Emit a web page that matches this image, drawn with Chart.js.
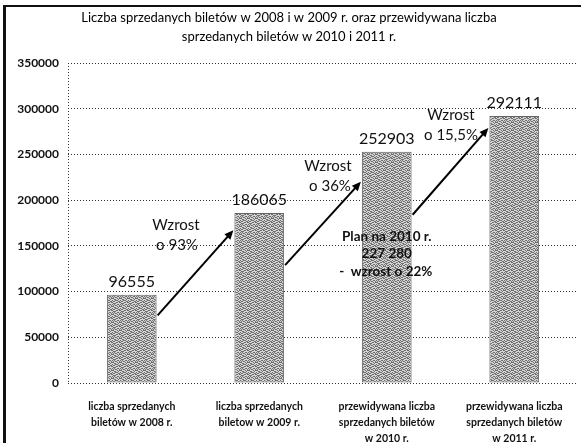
<!DOCTYPE html>
<html>
<head>
<meta charset="utf-8">
<script src="https://cdn.jsdelivr.net/npm/chart.js@4.4.1/dist/chart.umd.min.js"></script>
<style>
html,body{margin:0;padding:0;background:#fff;}
#wrap{width:581px;height:443px;position:relative;}
</style>
</head>
<body>
<div id="wrap"><canvas id="c" width="581" height="443"></canvas></div>
<script>
// ---- data ----
const categories = [
  ["liczba sprzedanych", "biletów w 2008 r."],
  ["liczba sprzedanych", "biletow w 2009 r."],
  ["przewidywana liczba", "sprzedanych biletów", "w 2010 r."],
  ["przewidywana liczba", "sprzedanych biletów", "w 2011 r."]
];
const tickets = [96555, 186065, 252903, 292111];
const titleLines = [
  "Liczba sprzedanych biletów w 2008 i w 2009 r. oraz przewidywana liczba",
  "sprzedanych biletów w 2010 i 2011 r."
];
const yMax = 350000;
const yStep = 50000;
// growth arrows: from bar i to bar i+1 (start value, end value)
const arrowFrom = [0, 1, 2];
const arrowStartVal = [74000, 129000, 184000];
const arrowEndVal = [167000, 220000, 279000];
const growthLabels = [
  ["Wzrost", "o 93%"],
  ["Wzrost", "o 36%"],
  ["Wzrost", "o 15,5%"]
];
const planNote = ["Plan na 2010 r.", "227 280", "-  wzrost o 22%"];

// ---- bar texture (fixed stipple bitmap) ----
const stipple = [
  "10100110",
  "01011001",
  "11000101",
  "00110010",
  "10011100",
  "01100011",
  "10001101",
  "01110000"
];
function makePattern() {
  const p = document.createElement('canvas');
  p.width = 8; p.height = 8;
  const g = p.getContext('2d');
  g.fillStyle = '#d4d4d4';
  g.fillRect(0, 0, 8, 8);
  g.fillStyle = '#707070';
  stipple.forEach((row, y) => {
    for (let x = 0; x < 8; x++) if (row[x] === '1') g.fillRect(x, y, 1, 1);
  });
  return g.createPattern(p, 'repeat');
}
const ctx0 = document.getElementById('c').getContext('2d');
const barPattern = makePattern();

const FONT = "Lato, 'Open Sans', sans-serif";

const decor = {
  id: 'decor',
  beforeDraw(chart) {
    const c = chart.ctx;
    c.save();
    c.fillStyle = '#fff';
    c.fillRect(0, 0, chart.width, chart.height);
    c.restore();
  },
  afterDraw(chart) {
    const c = chart.ctx;
    const ys = chart.scales.y, area = chart.chartArea;
    c.save();
    // frame
    c.strokeStyle = '#111';
    c.lineWidth = 3;
    c.beginPath(); c.moveTo(4.5, 5); c.lineTo(4.5, 443); c.stroke();
    c.lineWidth = 2;
    c.beginPath(); c.moveTo(3, 6); c.lineTo(581, 6); c.stroke();
    // dotted left axis line
    c.strokeStyle = '#333';
    c.lineWidth = 1;
    c.setLineDash([1, 2]);
    c.beginPath(); c.moveTo(area.left + 0.5, area.top); c.lineTo(area.left + 0.5, area.bottom); c.stroke();
    c.setLineDash([]);
    // value labels
    const meta = chart.getDatasetMeta(0);
    c.fillStyle = '#111';
    c.font = "16px " + FONT;
    c.textAlign = 'center';
    c.textBaseline = 'middle';
    meta.data.forEach((bar, i) => {
      c.fillText(String(tickets[i]), bar.x, bar.y - 13);
    });
    // arrows
    const half = meta.data[0].width / 2;
    c.strokeStyle = '#000';
    c.fillStyle = '#000';
    c.lineWidth = 2;
    arrowFrom.forEach((i, k) => {
      const x1 = meta.data[i].x + half + 1, y1 = ys.getPixelForValue(arrowStartVal[k]);
      const x2 = meta.data[i + 1].x - half - 1, y2 = ys.getPixelForValue(arrowEndVal[k]);
      const ang = Math.atan2(y2 - y1, x2 - x1);
      const hl = 9, hw = 4;
      c.beginPath(); c.moveTo(x1, y1);
      c.lineTo(x2 - Math.cos(ang) * hl * 0.8, y2 - Math.sin(ang) * hl * 0.8); c.stroke();
      c.beginPath();
      c.moveTo(x2, y2);
      c.lineTo(x2 - Math.cos(ang) * hl - Math.sin(ang) * hw, y2 - Math.sin(ang) * hl + Math.cos(ang) * hw);
      c.lineTo(x2 - Math.cos(ang) * hl + Math.sin(ang) * hw, y2 - Math.sin(ang) * hl - Math.cos(ang) * hw);
      c.closePath(); c.fill();
    });
    // growth labels
    c.font = "15px " + FONT;
    c.fillStyle = '#111';
    const gx = [176, 328, 451], gy = [225, 166, 115];
    const g2x = [177, 330, 451];
    growthLabels.forEach((l, k) => {
      c.fillText(l[0], gx[k], gy[k]);
      c.fillText(l[1], g2x[k], gy[k] + 20);
    });
    // plan note
    c.font = "bold 13.5px " + FONT;
    const px = meta.data[2].x;
    c.fillText(planNote[0], px, 237);
    c.fillText(planNote[1], px, 254);
    c.fillText(planNote[2], px - 1, 272);
    c.restore();
  }
};

new Chart(document.getElementById('c'), {
  type: 'bar',
  data: {
    labels: categories,
    datasets: [{
      data: tickets,
      backgroundColor: barPattern,
      borderColor: '#666',
      borderWidth: 1,
      borderSkipped: false,
      categoryPercentage: 1,
      barPercentage: 0.39
    }]
  },
  options: {
    responsive: false,
    animation: false,
    devicePixelRatio: 1,
    layout: { padding: { top: 8, right: 3, left: 0, bottom: 0 } },
    plugins: {
      legend: { display: false },
      tooltip: { enabled: false },
      title: {
        display: true,
        text: titleLines,
        color: '#000',
        font: { family: FONT, size: 13, weight: 'normal', lineHeight: 1.5 },
        padding: { top: 0, bottom: 16 }
      }
    },
    scales: {
      x: {
        grid: { display: false },
        border: { display: false },
        ticks: {
          color: '#111',
          font: { family: FONT, size: 10.5, weight: 'bold', lineHeight: 1.55 },
          padding: 7,
          maxRotation: 0,
          autoSkip: false
        },
        afterFit(s) { s.height = 60; }
      },
      y: {
        min: 0,
        max: yMax,
        ticks: {
          stepSize: yStep,
          color: '#111',
          font: { family: FONT, size: 12, weight: 'bold' },
          padding: 9,
          callback: (v) => String(v)
        },
        grid: { color: '#333', lineWidth: 1, drawTicks: false },
        border: { display: false, dash: [1, 2] },
        afterFit(s) { s.width = 68; }
      }
    }
  },
  plugins: [decor]
});
</script>
</body>
</html>
